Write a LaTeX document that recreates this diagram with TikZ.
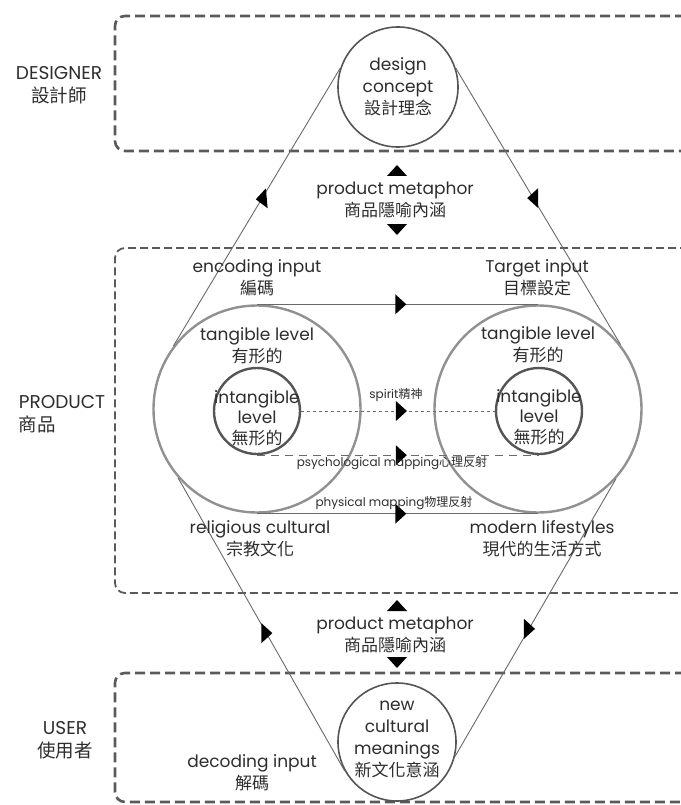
\documentclass[tikz,border=0pt]{standalone}
\usepackage{fontspec}
\setmainfont{Poppins}
\newfontfamily\cjkfont{Noto Sans CJK TC}
\usetikzlibrary{positioning}
\definecolor{ink}{RGB}{45,45,45}
\definecolor{boxgray}{RGB}{90,90,90}
\definecolor{ringgray}{RGB}{145,145,145}
\definecolor{coregray}{RGB}{85,85,85}
\definecolor{linkgray}{RGB}{105,105,105}
\newcommand{\zh}[1]{{\cjkfont #1}}

\tikzset{
  zone/.style={draw=boxgray, line width=2.6pt, dash pattern=on 10pt off 5pt, rounded corners=10pt},
  midzone/.style={zone, line width=1.8pt, dash pattern=on 8pt off 4pt},
  idea/.style={circle, draw=coregray, line width=1.6pt, minimum size=120pt, inner sep=0pt},
  bigring/.style={circle, draw=ringgray, line width=2.4pt, minimum size=207pt, inner sep=0pt},
  core/.style={circle, draw=coregray, line width=2.4pt, minimum size=86pt, inner sep=0pt},
  link/.style={draw=linkgray, line width=0.9pt},
  dotline/.style={draw=linkgray, line width=0.8pt, dash pattern=on 3pt off 3pt},
  dashline/.style={draw=linkgray, line width=1pt, dash pattern=on 8pt off 6pt},
  txt/.style={align=center, inner sep=0pt},
  side/.style={txt, font=\fontsize{18.5}{23}\selectfont},
  small/.style={txt, font=\fontsize{12}{14}\selectfont},
  arrowtri/.pic={\fill[black] (6,0) -- (-5,10) -- (-5,-10) -- cycle;}
}

\begin{document}
\begin{tikzpicture}[x=1pt, y=-1pt, font=\fontsize{17}{22}\selectfont, text=ink]
  \useasboundingbox (0,0) rectangle (680,805);

  % Zones
  \draw[zone] (700,16) -- (115,16) -- (115,151) -- (700,151);
  \draw[midzone] (700,248) -- (115,248) -- (115,593) -- (700,593);
  \draw[zone] (700,673) -- (115,673) -- (115,802) -- (700,802);

  % Side labels
  \node[side] (designer) at (59,85) {DESIGNER\\\zh{設計師}};
  \node[side, align=left] (product) at (62,414) {PRODUCT\\\zh{商品}};
  \node[side] (user) at (65,740) {USER\\\zh{使用者}};

  % Concept and meaning circles
  \node[idea] (dc) at (398,87) {};
  \node[txt] (dctext) at (dc) {design\\concept\\\zh{設計理念}};
  \node[idea, minimum size=118pt] (nc) at (397,742) {};
  \node[txt] (nctext) at (397,739) {new\\cultural\\meanings\\\zh{新文化意涵}};

  % Product metaphor
  \node[txt] (pmtop) at (395,200) {product metaphor\\\zh{商品隱喻內涵}};
  \pic[rotate=90] at (397,171) {arrowtri};
  \pic[rotate=-90] at (397,229) {arrowtri};
  \node[txt] (pmbot) at (395,635) {product metaphor\\\zh{商品隱喻內涵}};
  \pic[rotate=90] at (397,606) {arrowtri};
  \pic[rotate=-90] at (397,662) {arrowtri};

  % Rings
  \node[bigring] (lbig) at (257,409) {};
  \node[core] (lcore) at (257,411) {};
  \node[bigring] (rbig) at (538,409) {};
  \node[core] (rcore) at (539,411) {};
  \node[txt] (ltang) at (257,346) {tangible level\\\zh{有形的}};
  \node[txt] (rtang) at (538,345) {tangible level\\\zh{有形的}};
  \node[txt, font=\fontsize{17}{20.5}\selectfont] (lint) at (257,418) {intangible\\level\\\zh{無形的}};
  \node[txt, font=\fontsize{17}{20.5}\selectfont] (rint) at (539,417) {intangible\\level\\\zh{無形的}};

  % Mappings
  \draw[link] (lbig.north) -- pic[pos=.51]{arrowtri} (rbig.north);
  \draw[dotline] (lcore.east) -- pic[pos=.515]{arrowtri} (rcore.west);
  \draw[dashline] (lcore.south) -- pic[pos=.51]{arrowtri} (rcore.south);
  \draw[link] (lbig.south) -- pic[pos=.51]{arrowtri} (rbig.south);
  \node[small] (spirit) at (396,395) {spirit\zh{精神}};
  \node[small] (psych) at (392,463) {psychological mapping\zh{心理反射}};
  \node[small] (phys) at (394,503) {physical mapping\zh{物理反射}};

  % Outer loop
  \draw[link] (dc.162) -- pic[pos=.47, rotate=185]{arrowtri} (lbig.143);
  \draw[link] (dc.18) -- pic[pos=.47, rotate=180]{arrowtri} (rbig.38);
  \draw[link] (lbig.221) -- pic[pos=.53]{arrowtri} (nc.209);
  \draw[link] (rbig.-42) -- pic[pos=.54]{arrowtri} (nc.-14);

  % Labels
  \node[txt] (enc) at (257,278) {encoding input\\\zh{編碼}};
  \node[txt] (tgt) at (537,278) {Target input\\\zh{目標設定}};
  \node[txt] (rel) at (260,539) {religious cultural\\\zh{宗教文化}};
  \node[txt] (mod) at (542,539) {modern lifestyles\\\zh{現代的生活方式}};
  \node[txt] (dec) at (252,773) {decoding input\\\zh{解碼}};
\end{tikzpicture}
\end{document}
